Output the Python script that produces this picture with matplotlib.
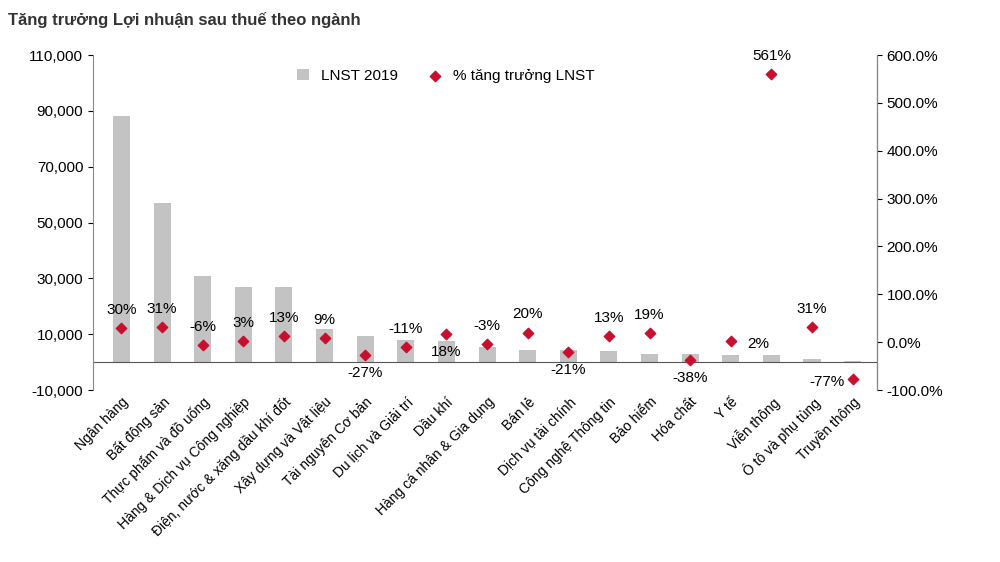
import matplotlib.pyplot as plt
import numpy as np

plt.rcParams['font.family'] = ['Arial', 'Liberation Sans', 'DejaVu Sans']

categories = ['Ngân hàng', 'Bất động sản', 'Thực phẩm và đồ uống', 'Hàng & Dịch vụ Công nghiệp',
              'Điện, nước & xăng dầu khí đốt', 'Xây dựng và Vật liệu', 'Tài nguyên Cơ bản',
              'Du lịch và Giải trí', 'Dầu khí', 'Hàng cá nhân & Gia dụng', 'Bán lẻ',
              'Dịch vụ tài chính', 'Công nghệ Thông tin', 'Bảo hiểm', 'Hóa chất', 'Y tế',
              'Viễn thông', 'Ô tô và phụ tùng', 'Truyền thông']
profit_2019 = [88000, 57000, 31000, 27000, 27000, 12000, 9500, 8000, 7500, 5500, 4500,
               4500, 4000, 3000, 3000, 2500, 2500, 1000, 500]
growth = [30, 31, -6, 3, 13, 9, -27, -11, 18, -3, 20, -21, 13, 19, -38, 2, 561, 31, -77]
below = {6, 8, 11, 14}

fig = plt.figure(figsize=(10, 5.62), dpi=100)
ax = fig.add_axes([0.093, 0.306, 0.784, 0.596])
x = np.arange(len(categories))
ax.bar(x, profit_2019, width=0.42, color='#c3c3c3', label='LNST 2019', zorder=2)
ax.axhline(0, color='#555555', lw=0.8)
ax.set_ylim(-10000, 110000)
ax.set_yticks(range(-10000, 110001, 20000))
ax.set_yticklabels([f'{v:,}' for v in range(-10000, 110001, 20000)], fontsize=11)
ax.set_xlim(-0.7, len(categories) - 0.4)
ax.set_xticks(x)
ax.set_xticklabels(categories, rotation=45, ha='right', rotation_mode='anchor', fontsize=10)
ax.tick_params(axis='x', length=0)
for s in ['top', 'bottom']:
    ax.spines[s].set_visible(False)
ax.spines['left'].set_color('#888888')

ax2 = ax.twinx()
ax2.scatter(x, growth, marker='D', s=28, color='#c8102e', label='% tăng trưởng LNST', zorder=3)
ax2.set_ylim(-100, 600)
ax2.set_yticks(range(-100, 601, 100))
ax2.set_yticklabels([f'{v:.1f}%' for v in range(-100, 601, 100)], fontsize=11)
for s in ['top', 'bottom']:
    ax2.spines[s].set_visible(False)
ax2.spines['right'].set_color('#888888')
ax2.spines['left'].set_visible(False)

for i, g in enumerate(growth):
    if i == len(growth) - 1:
        ax2.annotate(f'{g}%', (i, g), xytext=(-6, -2), textcoords='offset points',
                     ha='right', va='center', fontsize=11)
    elif i == 15:
        ax2.annotate(f'{g}%', (i, g), xytext=(12, -2), textcoords='offset points',
                     ha='left', va='center', fontsize=11)
    elif i in below:
        ax2.annotate(f'{g}%', (i, g), xytext=(0, -8), textcoords='offset points',
                     ha='center', va='top', fontsize=11)
    else:
        ax2.annotate(f'{g}%', (i, g), xytext=(0, 8), textcoords='offset points',
                     ha='center', va='bottom', fontsize=11)

h1, l1 = ax.get_legend_handles_labels()
h2, l2 = ax2.get_legend_handles_labels()
ax.legend(h1 + h2, l1 + l2, loc='upper center', bbox_to_anchor=(0.45, 1.0), ncol=2,
          frameon=False, fontsize=11, handlelength=0.8)

fig.text(0.008, 0.965, 'Tăng trưởng Lợi nhuận sau thuế theo ngành', fontsize=12,
         fontweight='bold', color='#333333', va='center')
fig.savefig('out.png', dpi=100)
